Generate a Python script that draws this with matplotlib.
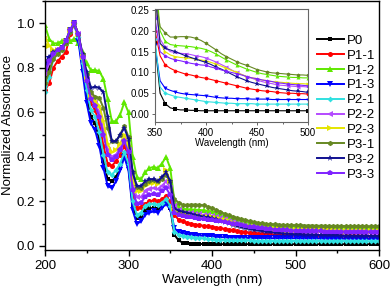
import numpy as np
import matplotlib.pyplot as plt
from matplotlib.ticker import MultipleLocator

plt.rcParams['font.family'] = ['Liberation Sans', 'DejaVu Sans']

# wavelength grid (nm)
wavelength = np.arange(200, 601, 5)

labels = ["P0", "P1-1", "P1-2", "P1-3", "P2-1", "P2-2", "P2-3", "P3-1", "P3-2", "P3-3"]

p0 = [0.75, 0.80, 0.85, 0.87, 0.88, 0.91, 0.96, 1.00, 0.93, 0.80,
      0.67, 0.58, 0.55, 0.48, 0.38, 0.30, 0.29, 0.31, 0.35, 0.41,
      0.35, 0.18, 0.125, 0.13, 0.16, 0.17, 0.17, 0.165, 0.18, 0.20,
      0.17, 0.05, 0.025, 0.015, 0.012, 0.010, 0.010, 0.009, 0.009, 0.008,
      0.008, 0.008, 0.008, 0.008, 0.008, 0.008, 0.008, 0.008, 0.008, 0.008,
      0.008, 0.008, 0.008, 0.008, 0.008, 0.008, 0.008, 0.008, 0.008, 0.008,
      0.008, 0.008, 0.008, 0.008, 0.008, 0.008, 0.008, 0.008, 0.008, 0.008,
      0.008, 0.008, 0.008, 0.008, 0.008, 0.008, 0.008, 0.008, 0.008, 0.008,
      0.008]
p1_1 = [0.70, 0.73, 0.80, 0.83, 0.85, 0.87, 0.95, 1.00, 0.95, 0.84,
        0.73, 0.64, 0.61, 0.55, 0.45, 0.37, 0.36, 0.38, 0.41, 0.45,
        0.40, 0.23, 0.17, 0.175, 0.19, 0.20, 0.205, 0.20, 0.21, 0.225,
        0.20, 0.14, 0.118, 0.11, 0.104, 0.10, 0.096, 0.094, 0.091, 0.088,
        0.086, 0.083, 0.080, 0.077, 0.074, 0.071, 0.068, 0.065, 0.062, 0.060,
        0.058, 0.056, 0.055, 0.054, 0.052, 0.051, 0.050, 0.050, 0.049, 0.049,
        0.048, 0.048, 0.048, 0.047, 0.047, 0.047, 0.047, 0.046, 0.046, 0.046,
        0.046, 0.046, 0.045, 0.045, 0.045, 0.045, 0.045, 0.045, 0.044, 0.044,
        0.044]
p1_2 = [0.99, 0.93, 0.91, 0.91, 0.92, 0.91, 0.92, 0.93, 0.91, 0.87,
        0.82, 0.79, 0.79, 0.785, 0.75, 0.66, 0.56, 0.56, 0.59, 0.645,
        0.60, 0.40, 0.31, 0.30, 0.33, 0.35, 0.355, 0.35, 0.37, 0.40,
        0.35, 0.20, 0.175, 0.167, 0.165, 0.164, 0.163, 0.162, 0.160, 0.158,
        0.155, 0.150, 0.144, 0.137, 0.130, 0.124, 0.118, 0.113, 0.108, 0.104,
        0.100, 0.097, 0.095, 0.093, 0.091, 0.090, 0.089, 0.088, 0.088, 0.087,
        0.087, 0.086, 0.086, 0.085, 0.085, 0.085, 0.084, 0.084, 0.084, 0.083,
        0.083, 0.083, 0.083, 0.082, 0.082, 0.082, 0.082, 0.081, 0.081, 0.081,
        0.081]
p1_3 = [0.81, 0.84, 0.86, 0.87, 0.89, 0.92, 0.97, 1.00, 0.92, 0.78,
        0.64, 0.55, 0.52, 0.45, 0.35, 0.27, 0.26, 0.29, 0.34, 0.40,
        0.34, 0.16, 0.10, 0.11, 0.14, 0.15, 0.155, 0.15, 0.17, 0.19,
        0.165, 0.08, 0.062, 0.057, 0.053, 0.050, 0.048, 0.047, 0.046, 0.045,
        0.044, 0.042, 0.040, 0.039, 0.038, 0.038, 0.037, 0.037, 0.037, 0.036,
        0.036, 0.036, 0.036, 0.035, 0.035, 0.035, 0.035, 0.035, 0.035, 0.035,
        0.035, 0.034, 0.034, 0.034, 0.034, 0.034, 0.034, 0.033, 0.033, 0.033,
        0.033, 0.033, 0.033, 0.033, 0.032, 0.032, 0.032, 0.032, 0.032, 0.032,
        0.032]
p2_1 = [0.69, 0.76, 0.84, 0.87, 0.88, 0.91, 0.96, 1.00, 0.94, 0.82,
        0.70, 0.61, 0.58, 0.51, 0.41, 0.33, 0.32, 0.34, 0.37, 0.42,
        0.37, 0.20, 0.14, 0.15, 0.18, 0.19, 0.19, 0.185, 0.195, 0.21,
        0.18, 0.065, 0.050, 0.046, 0.042, 0.040, 0.038, 0.036, 0.034, 0.032,
        0.030, 0.029, 0.028, 0.027, 0.026, 0.026, 0.025, 0.025, 0.025, 0.025,
        0.024, 0.024, 0.024, 0.024, 0.024, 0.024, 0.024, 0.024, 0.024, 0.024,
        0.024, 0.024, 0.023, 0.023, 0.023, 0.023, 0.023, 0.023, 0.022, 0.022,
        0.022, 0.022, 0.022, 0.022, 0.022, 0.021, 0.021, 0.021, 0.021, 0.021,
        0.021]
p2_2 = [0.77, 0.82, 0.86, 0.88, 0.89, 0.92, 0.97, 1.00, 0.95, 0.85,
        0.75, 0.67, 0.64, 0.60, 0.52, 0.43, 0.40, 0.41, 0.44, 0.48,
        0.43, 0.27, 0.22, 0.22, 0.245, 0.255, 0.26, 0.255, 0.27, 0.29,
        0.26, 0.18, 0.16, 0.150, 0.148, 0.146, 0.145, 0.143, 0.140, 0.138,
        0.135, 0.130, 0.125, 0.119, 0.113, 0.106, 0.100, 0.095, 0.090, 0.086,
        0.082, 0.078, 0.075, 0.073, 0.070, 0.069, 0.068, 0.067, 0.066, 0.066,
        0.065, 0.065, 0.064, 0.064, 0.064, 0.063, 0.063, 0.063, 0.062, 0.062,
        0.062, 0.062, 0.061, 0.061, 0.061, 0.061, 0.060, 0.060, 0.060, 0.060,
        0.060]
p2_3 = [0.94, 0.90, 0.88, 0.88, 0.89, 0.92, 0.97, 1.00, 0.95, 0.85,
        0.75, 0.67, 0.65, 0.63, 0.56, 0.46, 0.42, 0.43, 0.46, 0.50,
        0.45, 0.30, 0.245, 0.245, 0.27, 0.28, 0.285, 0.28, 0.30, 0.34,
        0.29, 0.17, 0.150, 0.142, 0.138, 0.136, 0.135, 0.134, 0.132, 0.130,
        0.128, 0.124, 0.120, 0.115, 0.110, 0.105, 0.100, 0.095, 0.090, 0.087,
        0.085, 0.082, 0.080, 0.078, 0.077, 0.076, 0.075, 0.074, 0.073, 0.073,
        0.072, 0.072, 0.072, 0.071, 0.071, 0.071, 0.070, 0.070, 0.070, 0.070,
        0.069, 0.069, 0.069, 0.069, 0.068, 0.068, 0.068, 0.068, 0.068, 0.067,
        0.067]
p3_1 = [0.73, 0.78, 0.84, 0.86, 0.88, 0.91, 0.96, 1.00, 0.95, 0.86,
        0.77, 0.69, 0.67, 0.665, 0.62, 0.53, 0.47, 0.47, 0.50, 0.54,
        0.49, 0.33, 0.265, 0.26, 0.28, 0.29, 0.295, 0.29, 0.30, 0.32,
        0.29, 0.21, 0.195, 0.185, 0.185, 0.186, 0.186, 0.185, 0.182, 0.177,
        0.170, 0.162, 0.154, 0.145, 0.138, 0.132, 0.126, 0.121, 0.117, 0.112,
        0.107, 0.104, 0.101, 0.099, 0.098, 0.097, 0.096, 0.095, 0.094, 0.094,
        0.093, 0.093, 0.092, 0.092, 0.092, 0.091, 0.091, 0.091, 0.090, 0.090,
        0.090, 0.090, 0.089, 0.089, 0.089, 0.089, 0.088, 0.088, 0.088, 0.088,
        0.088]
p3_2 = [0.82, 0.85, 0.87, 0.88, 0.89, 0.92, 0.97, 1.00, 0.95, 0.86,
        0.78, 0.71, 0.715, 0.71, 0.69, 0.58, 0.47, 0.47, 0.50, 0.53,
        0.48, 0.33, 0.27, 0.27, 0.29, 0.30, 0.30, 0.29, 0.31, 0.33,
        0.29, 0.17, 0.158, 0.154, 0.150, 0.145, 0.140, 0.136, 0.132, 0.128,
        0.124, 0.119, 0.113, 0.108, 0.102, 0.096, 0.090, 0.085, 0.080, 0.076,
        0.073, 0.070, 0.067, 0.064, 0.062, 0.060, 0.058, 0.056, 0.055, 0.054,
        0.052, 0.052, 0.051, 0.051, 0.050, 0.050, 0.049, 0.049, 0.048, 0.048,
        0.048, 0.047, 0.047, 0.047, 0.046, 0.046, 0.046, 0.046, 0.045, 0.045,
        0.045]
p3_3 = [0.79, 0.83, 0.86, 0.88, 0.89, 0.92, 0.97, 1.00, 0.95, 0.85,
        0.74, 0.66, 0.63, 0.58, 0.50, 0.41, 0.385, 0.40, 0.43, 0.47,
        0.42, 0.25, 0.19, 0.195, 0.22, 0.23, 0.235, 0.23, 0.245, 0.26,
        0.23, 0.15, 0.140, 0.134, 0.130, 0.128, 0.125, 0.122, 0.120, 0.118,
        0.117, 0.113, 0.110, 0.106, 0.103, 0.100, 0.097, 0.094, 0.090, 0.087,
        0.085, 0.082, 0.080, 0.078, 0.075, 0.074, 0.072, 0.071, 0.070, 0.069,
        0.068, 0.068, 0.067, 0.067, 0.066, 0.066, 0.066, 0.065, 0.065, 0.065,
        0.064, 0.064, 0.064, 0.064, 0.063, 0.063, 0.063, 0.063, 0.062, 0.062,
        0.062]

series = [p0, p1_1, p1_2, p1_3, p2_1, p2_2, p2_3, p3_1, p3_2, p3_3]
colors = ["#000000", "#ff0000", "#5fe800", "#0000ff", "#30e0e0",
          "#b44bff", "#e5e500", "#668822", "#101090", "#7f22ff"]
markers = ["s", "o", "^", "v", "D", "<", ">", "h", "*", "p"]
msizes = [3.4, 3.6, 3.8, 3.8, 3.0, 3.8, 3.8, 3.8, 5.0, 3.8]

fig = plt.figure(figsize=(3.92, 2.90), dpi=100)
ax = fig.add_axes([45 / 392, 40 / 290, 334 / 392, 249 / 290])

for y, c, m, s, lab in zip(series, colors, markers, msizes, labels):
    ax.plot(wavelength, y, color=c, marker=m, ms=s, lw=1.4, mew=0, label=lab)

ax.set_xlim(200, 600)
ax.set_ylim(-0.018, 1.10)
ax.xaxis.set_major_locator(MultipleLocator(100))
ax.xaxis.set_minor_locator(MultipleLocator(50))
ax.yaxis.set_major_locator(MultipleLocator(0.2))
ax.yaxis.set_minor_locator(MultipleLocator(0.1))
ax.yaxis.set_major_formatter(plt.FormatStrFormatter("%.1f"))
ax.tick_params(which="major", direction="out", length=4, width=1,
               labelsize=9.5, pad=3)
ax.tick_params(which="minor", direction="out", length=2.5, width=1)
ax.set_xlabel("Wavelength (nm)", fontsize=9.5, labelpad=2)
ax.set_ylabel("Normalized Absorbance", fontsize=9.5, labelpad=2)
for sp in ax.spines.values():
    sp.set_linewidth(1.0)

ax.legend(loc="upper left", bbox_to_anchor=(0.813, 0.865), frameon=False,
          fontsize=9.5, handlelength=2.05, handletextpad=0.25,
          labelspacing=0.2, borderpad=0, borderaxespad=0, numpoints=1)

# inset
axi = fig.add_axes([155 / 392, 168 / 290, 153 / 392, 113 / 290])
for y, c, m, s in zip(series, colors, markers, msizes):
    axi.plot(wavelength, y, color=c, marker=m, ms=s * 0.75, lw=0.8, mew=0,
             markevery=2)
axi.set_xlim(350, 500)
axi.set_ylim(-0.019, 0.2524)
axi.xaxis.set_major_locator(MultipleLocator(50))
axi.xaxis.set_minor_locator(MultipleLocator(25))
axi.yaxis.set_major_locator(MultipleLocator(0.05))
axi.yaxis.set_major_formatter(plt.FormatStrFormatter("%.2f"))
axi.tick_params(which="major", direction="out", length=2.5, width=0.7,
                labelsize=7, pad=1.5, color="0.4")
axi.tick_params(which="minor", direction="out", length=1.5, width=0.7,
                color="0.4")
axi.set_xlabel("Wavelength (nm)", fontsize=7, labelpad=0)
for sp in axi.spines.values():
    sp.set_linewidth(0.8)
    sp.set_color("0.4")

fig.savefig("out.png", dpi=100)
